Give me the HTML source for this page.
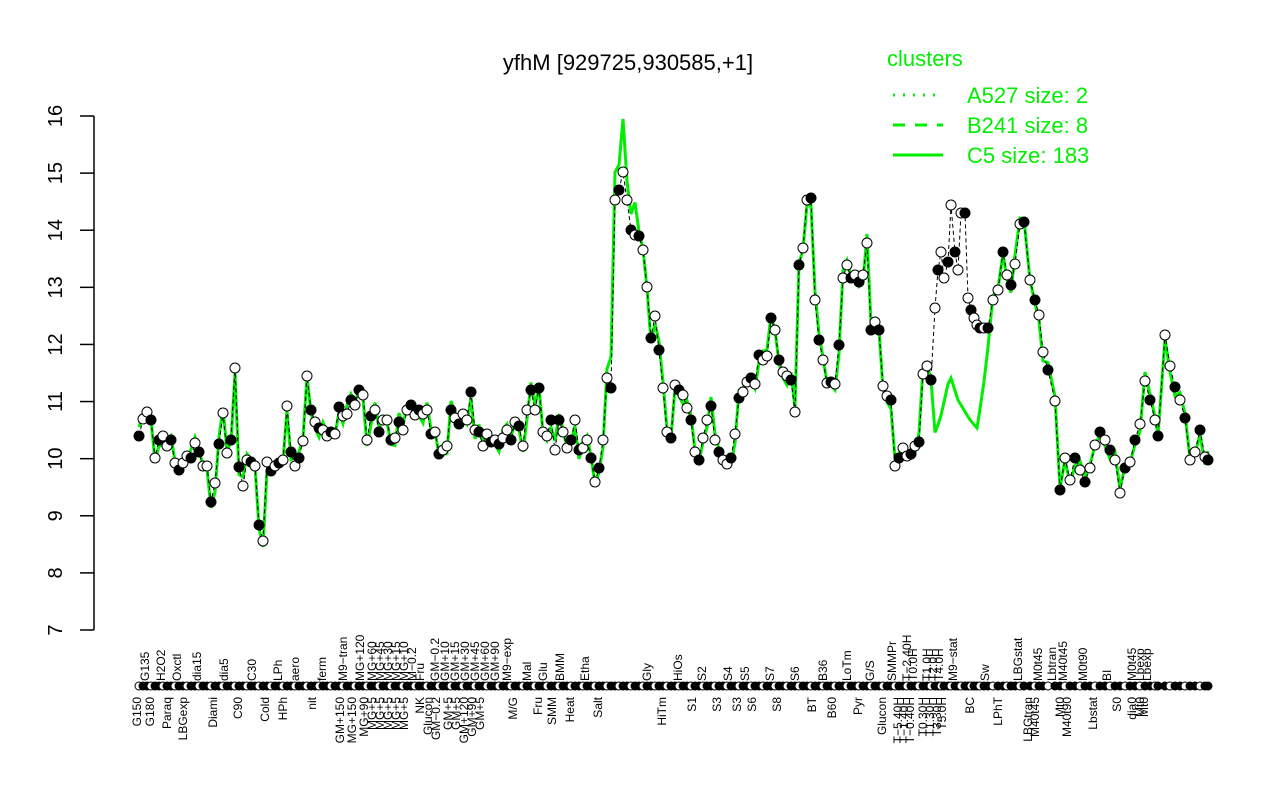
<!DOCTYPE html>
<html><head><meta charset="utf-8"><style>body{margin:0;background:#fff}svg{display:block}text{font-family:"Liberation Sans",sans-serif}</style></head>
<body>
<svg id="s" width="1280" height="800" viewBox="0 0 1280 800" xmlns="http://www.w3.org/2000/svg">
<rect width="1280" height="800" fill="#fff"/>
<text x="628" y="70" font-size="22" text-anchor="middle">yfhM [929725,930585,+1]</text>
<g fill="#00ee00" font-size="22">
<text x="887" y="66">clusters</text>
<text x="967" y="103">A527 size: 2</text>
<text x="967" y="133">B241 size: 8</text>
<text x="967" y="163">C5 size: 183</text>
</g>
<line x1="893" y1="95" x2="943" y2="95" stroke="#00ee00" stroke-width="3" stroke-dasharray="2,8"/>
<line x1="893" y1="125" x2="943" y2="125" stroke="#00ee00" stroke-width="3" stroke-dasharray="12,10"/>
<line x1="893" y1="155" x2="943" y2="155" stroke="#00ee00" stroke-width="3"/>
<g id="ax" stroke="#000" stroke-width="1.5" fill="none"></g>
<g id="yl" font-size="20" text-anchor="middle"></g>
<g id="plot"></g>
<g id="lab" font-size="12"></g>
</svg>
<script>
(function(){
var NS="http://www.w3.org/2000/svg";
function el(p,t,a,txt){var e=document.createElementNS(NS,t);for(var k in a)e.setAttribute(k,a[k]);if(txt)e.textContent=txt;document.getElementById(p).appendChild(e);return e;}
el("ax","line",{x1:94,y1:116,x2:94,y2:630});
for(var v=7;v<=16;v++){var y=630-(v-7)*57.11;el("ax","line",{x1:80,y1:y,x2:94,y2:y});
el("yl","text",{transform:"translate(62,"+y+") rotate(-90)"},String(v));}
var ys=[436,419,412,420,458,440,436,446,440,463,470,463,456,458,443,452,466,466,502,483,444,413,453,440,368,467,486,460,462,466,525,541,462,471,466,463,460,406,452,466,458,441,376,410,422,428,430,436,432,434,407,416,414,400,405,390,395,440,416,410,432,420,420,440,438,422,430,410,405,415,410,414,410,434,432,454,450,446,410,418,424,414,420,392,430,432,446,434,442,440,444,438,430,440,422,426,446,410,390,410,388,432,436,420,450,420,432,448,440,420,450,448,440,458,482,468,440,378,388,200,190,172,200,230,235,236,250,287,338,316,350,388,432,438,385,390,395,408,420,452,460,438,420,406,440,452,460,464,458,434,398,392,382,378,384,355,360,356,318,330,360,372,376,380,412,265,248,200,198,300,340,360,383,382,384,345,278,265,278,275,282,275,243,330,322,330,386,396,400,466,458,448,456,454,446,442,374,366,380,414,440];
var P=[];
for(var i=0;i<ys.length;i++){var x=139+i*4;if(x>932)break;P.push([x,ys[i]]);}
var R=[[935,308],[938,270],[941,252],[944,278],[948,262],[951,205],[955,252],[958,270],[961,213],[965,213],[968,298],[971,310],[974,318],[977,325],[980,328],[984,328],[988,328],[993,300],[998,290],[1003,252],[1007,275],[1011,285],[1015,264],[1020,224],[1024,222],[1030,280],[1035,300],[1039,315],[1043,352],[1048,370],[1055,401],[1060,490],[1065,458],[1070,480],[1075,458],[1080,470],[1085,482],[1090,468],[1095,445],[1100,432],[1105,440],[1110,450],[1115,460],[1120,493],[1125,468],[1130,462],[1135,440],[1140,424],[1145,381],[1150,400],[1155,420],[1158,436],[1165,335],[1170,366],[1175,387],[1180,400],[1185,418],[1190,460],[1195,452],[1200,430],[1205,457],[1208,460]];
P=P.concat(R);
var GO=[[932,440],[940,420],[950,375],[958,400],[970,420],[977,428],[983,390],[990,330]];
function gov(x){for(var k=0;k<GO.length-1;k++){if(x>=GO[k][0]&&x<=GO[k+1][0]){var t=(x-GO[k][0])/(GO[k+1][0]-GO[k][0]);return GO[k][1]+t*(GO[k+1][1]-GO[k][1]);}}return null;}
var pts=[],gp=[];
for(var i=0;i<P.length;i++){var x=P[i][0],y=P[i][1];pts.push(x+","+y);
var g=y;if(x>=611&&x<=635)g=g-25;if(x==623)g=116;
var s=(i*7919)%13;g=g+(s-6)*1.5;var o=gov(x);if(o!==null)g=o;gp.push(x+","+g);}
el("plot","polyline",{points:gp.join(" "),fill:"none",stroke:"#00ee00","stroke-width":3});
el("plot","polyline",{points:pts.join(" "),fill:"none",stroke:"#000","stroke-width":1,"stroke-dasharray":"4,3"});
for(var i=0;i<P.length;i++){var f=((i*37)%5<2)?"#000":"#fff";
el("plot","circle",{cx:P[i][0],cy:P[i][1],r:5,fill:f,stroke:"#000","stroke-width":1});
el("plot","circle",{cx:P[i][0],cy:686,r:4,fill:((i*53)%3==0)?"#fff":"#000",stroke:"#000","stroke-width":1});}
var topL=[[145,"G135"],[161,"H2O2"],[177,"Oxctl"],[197,"dia15"],[224,"dia5"],[252,"C30"],[278,"LPh"],[295,"aero"],[322,"ferm"],[343,"M9−tran"],[360,"MG+120"],[372,"MG+60"],[380,"MG+45"],[388,"MG+30"],[396,"MG+15"],[404,"MG+10"],[412,"M−0.2"],[420,"Fru"],[435,"GM−0.2"],[445,"GM+10"],[455,"GM+15"],[465,"GM+30"],[475,"GM+45"],[485,"GM+60"],[495,"GM+90"],[507,"M9−exp"],[527,"Mal"],[543,"Glu"],[560,"BMM"],[585,"Etha"],[647,"Gly"],[678,"HiOs"],[702,"S2"],[728,"S4"],[745,"S5"],[770,"S7"],[795,"S6"],[823,"B36"],[847,"LoTm"],[870,"G/S"],[892,"SMMPr"],[907,"T−2.40H"],[913,"T0.0H"],[927,"T1.0H"],[933,"T2.0H"],[939,"T4.0H"],[953,"M9−stat"],[985,"Sw"],[1018,"LBGstat"],[1038,"M0t45"],[1052,"Lbtran"],[1063,"M40t45"],[1083,"M0t90"],[1107,"BI"],[1132,"M0t45"],[1140,"Lbexp"],[1147,"Lbexp"]];
var bot=[[137,"G150"],[150,"G180"],[167,"Paraq"],[183,"LBGexp"],[213,"Diami"],[238,"C90"],[265,"Cold"],[283,"HPh"],[312,"nit"],[340,"GM+150"],[352,"MG+150"],[364,"MG+90"],[372,"MG+5"],[380,"MG+5"],[388,"MG+5"],[396,"MG+5"],[404,"MG+5"],[420,"NK"],[428,"Glucon"],[436,"GM−0.2"],[448,"GM+5"],[456,"GM+5"],[464,"GM+120"],[472,"GM+90"],[480,"GM+5"],[513,"M/G"],[538,"Fru"],[552,"SMM"],[570,"Heat"],[598,"Salt"],[662,"HiTm"],[692,"S1"],[717,"S3"],[737,"S3"],[752,"S6"],[777,"S8"],[812,"BT"],[832,"B60"],[858,"Pyr"],[882,"Glucon"],[898,"T−5.40H"],[904,"T−1.40H"],[910,"T−0.40H"],[923,"T0.30H"],[930,"T1.30H"],[937,"T3.30H"],[942,"T5.0H"],[970,"BC"],[998,"LPhT"],[1028,"LBGtran"],[1035,"M40t45"],[1060,"Mt0"],[1067,"M40t90"],[1093,"Lbstat"],[1117,"S0"],[1132,"dia0"],[1140,"Mt0"],[1144,"Mt0"]];
topL.forEach(function(a){el("lab","text",{transform:"translate("+(a[0]+4)+",681) rotate(-90)","text-anchor":"start"},a[1]);});
bot.forEach(function(a){el("lab","text",{transform:"translate("+(a[0]+4)+",697) rotate(-90)","text-anchor":"end"},a[1]);});
})();
</script>
</body></html>
